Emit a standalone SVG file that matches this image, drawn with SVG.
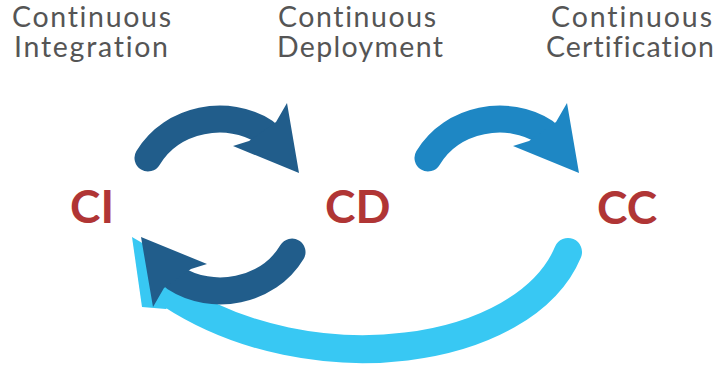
<svg xmlns="http://www.w3.org/2000/svg" xmlns:xlink="http://www.w3.org/1999/xlink" width="719" height="369" viewBox="0 0 719 369">
<style>
.cap{font-family:Lato,"Open Sans","Liberation Sans",sans-serif;font-size:28.5px;fill:#555555;font-variant-ligatures:none}
.abbr{font-family:Lato,"Liberation Sans",sans-serif;font-weight:bold;font-size:46px;fill:#b03535}
.shaft{fill:none;stroke:currentColor;stroke-width:27;stroke-linecap:round}
.head{fill:currentColor;stroke:none}
</style>
<defs>
<g id="curl">
<path class="shaft" d="M148,158 C172,118 228,108 265,132"/>
<polygon class="head" points="287,103 299,173 233,146 249,141 276,122"/>
</g>
</defs>
<rect width="719" height="369" fill="#ffffff"/>
<g id="connectors">
<g id="cc-to-ci" style="color:#38c8f3">
<path class="shaft" style="stroke-width:28" d="M568,252 C525,355 312,387 170,294"/>
<polygon class="head" points="132,237 142,307 166,309 190,284 180,265"/>
</g>
<use id="ci-to-cd" href="#curl" xlink:href="#curl" style="color:#215d8b"/>
<use id="cd-to-ci" href="#curl" xlink:href="#curl" transform="rotate(180 220 205)" style="color:#215d8b"/>
<use id="cd-to-cc" href="#curl" xlink:href="#curl" transform="translate(280 0)" style="color:#1e87c4"/>
</g>
<g id="node-ci">
<text class="cap" x="12" y="27" textLength="159" lengthAdjust="spacing">Continuous</text>
<text class="cap" x="14" y="57" textLength="154" lengthAdjust="spacing">Integration</text>
<text class="abbr" x="70" y="223">CI</text>
</g>
<g id="node-cd">
<text class="cap" x="278" y="27" textLength="158" lengthAdjust="spacing">Continuous</text>
<text class="cap" x="277" y="57" textLength="166" lengthAdjust="spacing">Deployment</text>
<text class="abbr" x="325" y="223">CD</text>
</g>
<g id="node-cc">
<text class="cap" x="551" y="27" textLength="161" lengthAdjust="spacing">Continuous</text>
<text class="cap" x="546" y="57" textLength="168" lengthAdjust="spacing">Certification</text>
<text class="abbr" x="597" y="224">CC</text>
</g>
</svg>
